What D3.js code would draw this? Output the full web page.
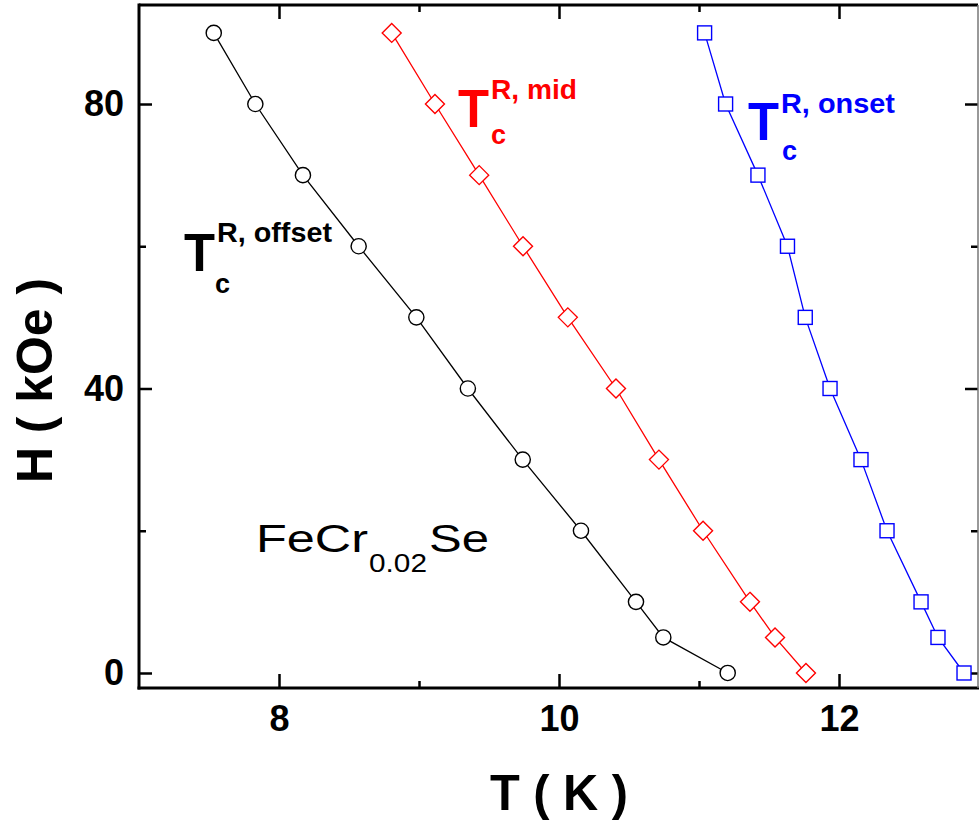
<!DOCTYPE html>
<html><head><meta charset="utf-8">
<script src="https://cdn.jsdelivr.net/npm/d3@7"></script>
<style>
html,body{margin:0;padding:0;background:#fff;}
text{font-family:"Liberation Sans",Arial,sans-serif;}
</style></head>
<body>
<svg id="chart" width="979" height="829"></svg>
<script>
const fieldH = [90, 80, 70, 60, 50, 40, 30, 20, 10, 5, 0];
const tcOffset = [7.534, 7.831, 8.171, 8.569, 8.981, 9.349, 9.741, 10.157, 10.55, 10.745, 11.205];
const tcMid    = [8.805, 9.114, 9.43, 9.743, 10.063, 10.407, 10.714, 11.029, 11.364, 11.543, 11.764];
const tcOnset  = [11.04, 11.19, 11.421, 11.632, 11.759, 11.936, 12.157, 12.343, 12.586, 12.707, 12.893];
const xMajor = [8, 10, 12];
const xMinor = [9, 11];
const yMajor = [0, 40, 80];
const yMinor = [20, 60];

const svg = d3.select("#chart");
const L = 139, R = 978, T = 5, B = 688;
const x = d3.scaleLinear().domain([7, 13]).range([139, 979]);
const y = d3.scaleLinear().domain([-2.11, 93.92]).range([B, T]);

function styleAxis(g){ g.select(".domain").remove(); g.selectAll(".tick line").attr("stroke","#000").attr("stroke-width",2.5); }
const tf = "bold 36px 'Liberation Sans', Arial, sans-serif";
svg.append("g").attr("transform",`translate(0,${B})`)
  .call(d3.axisBottom(x).tickValues(xMajor).tickSizeInner(-14).tickSizeOuter(0).tickPadding(17).tickFormat(d3.format("d")))
  .call(styleAxis).selectAll("text").style("font",tf).attr("fill","#000");
svg.append("g").attr("transform",`translate(0,${B})`)
  .call(d3.axisBottom(x).tickValues(xMinor).tickSizeInner(-7).tickSizeOuter(0).tickFormat(""))
  .call(styleAxis);
svg.append("g").attr("transform",`translate(0,${T})`)
  .call(d3.axisTop(x).tickValues(xMajor).tickSizeInner(-14).tickSizeOuter(0).tickFormat(""))
  .call(styleAxis);
svg.append("g").attr("transform",`translate(0,${T})`)
  .call(d3.axisTop(x).tickValues(xMinor).tickSizeInner(-7).tickSizeOuter(0).tickFormat(""))
  .call(styleAxis);
svg.append("g").attr("transform",`translate(${L},0)`)
  .call(d3.axisLeft(y).tickValues(yMajor).tickSizeInner(-13).tickSizeOuter(0).tickPadding(15).tickFormat(d3.format("d")))
  .call(styleAxis).selectAll("text").style("font",tf).attr("fill","#000");
svg.append("g").attr("transform",`translate(${L},0)`)
  .call(d3.axisLeft(y).tickValues(yMinor).tickSizeInner(-7).tickSizeOuter(0).tickFormat(""))
  .call(styleAxis);
svg.append("g").attr("transform",`translate(${R},0)`)
  .call(d3.axisRight(y).tickValues(yMajor).tickSizeInner(-13).tickSizeOuter(0).tickFormat(""))
  .call(styleAxis);
svg.append("g").attr("transform",`translate(${R},0)`)
  .call(d3.axisRight(y).tickValues(yMinor).tickSizeInner(-7).tickSizeOuter(0).tickFormat(""))
  .call(styleAxis);

// frame
svg.append("path").attr("d",`M${L},${T}H${R}`).attr("stroke","#000").attr("stroke-width",3);
svg.append("path").attr("d",`M${L},${T-1.5}V${B+1.5}`).attr("stroke","#000").attr("stroke-width",3);
svg.append("path").attr("d",`M${L-1.5},${B}H${R+1}`).attr("stroke","#000").attr("stroke-width",3);
svg.append("path").attr("d",`M${R},${T}V${B}`).attr("stroke","#777").attr("stroke-width",1.5);

// series
const series = [
  {vals: tcOffset, color: "#000000", shape: "circle"},
  {vals: tcMid, color: "#ff0000", shape: "diamond"},
  {vals: tcOnset, color: "#0000ff", shape: "square"}
];
const line = d3.line().x(d=>x(d[0])).y(d=>y(d[1]));
series.forEach(s=>{
  const pts = s.vals.map((v,i)=>[v, fieldH[i]]);
  svg.append("path").datum(pts).attr("d",line).attr("fill","none").attr("stroke",s.color).attr("stroke-width",1.3);
  const g = svg.append("g");
  pts.forEach(p=>{
    const cx = x(p[0]), cy = y(p[1]);
    if(s.shape==="circle"){
      g.append("circle").attr("cx",cx).attr("cy",cy).attr("r",7.6).attr("fill","#fff").attr("stroke",s.color).attr("stroke-width",1.4);
    } else if(s.shape==="diamond"){
      const r=9.5;
      g.append("path").attr("d",`M${cx},${cy-r}L${cx+r},${cy}L${cx},${cy+r}L${cx-r},${cy}Z`).attr("fill","#fff").attr("stroke",s.color).attr("stroke-width",1.4);
    } else {
      const h=7;
      g.append("rect").attr("x",cx-h).attr("y",cy-h).attr("width",2*h).attr("height",2*h).attr("fill","#fff").attr("stroke",s.color).attr("stroke-width",1.4);
    }
  });
});

// series labels
const labels = [
  {sup:"R, offset", color:"#000", tx:184, tb:271, sx:217, sb:242, sl:115, cx:215, cb:293},
  {sup:"R, mid", color:"#ff0000", tx:458, tb:127, sx:491, sb:99, sl:86, cx:491, cb:144},
  {sup:"R, onset", color:"#0000ff", tx:748, tb:140, sx:781, sb:113, sl:114, cx:782, cb:160}
];
labels.forEach(l=>{
  svg.append("text").attr("x",l.tx).attr("y",l.tb).attr("fill",l.color)
    .style("font-weight","bold").style("font-size","54px")
    .attr("textLength",31).attr("lengthAdjust","spacingAndGlyphs").text("T");
  svg.append("text").attr("x",l.sx).attr("y",l.sb).attr("fill",l.color)
    .style("font-weight","bold").style("font-size","28px")
    .attr("textLength",l.sl).attr("lengthAdjust","spacingAndGlyphs").text(l.sup);
  svg.append("text").attr("x",l.cx).attr("y",l.cb).attr("fill",l.color)
    .style("font-weight","bold").style("font-size","27px").text("c");
});

// compound label
svg.append("text").attr("x",256).attr("y",552).style("font-size","39px")
  .attr("textLength",112).attr("lengthAdjust","spacingAndGlyphs").text("FeCr");
svg.append("text").attr("x",369).attr("y",572).style("font-size","25px")
  .attr("textLength",58).attr("lengthAdjust","spacingAndGlyphs").text("0.02");
svg.append("text").attr("x",429).attr("y",552).style("font-size","39px")
  .attr("textLength",60).attr("lengthAdjust","spacingAndGlyphs").text("Se");

// axis titles
svg.append("text").attr("x",490).attr("y",810).style("font-weight","bold").style("font-size","50px")
  .attr("textLength",138).attr("lengthAdjust","spacingAndGlyphs").text("T ( K )");
svg.append("text").attr("transform","translate(52,483) rotate(-90)").style("font-weight","bold").style("font-size","50px")
  .attr("textLength",205).attr("lengthAdjust","spacingAndGlyphs").text("H ( kOe )");
</script>
</body></html>
